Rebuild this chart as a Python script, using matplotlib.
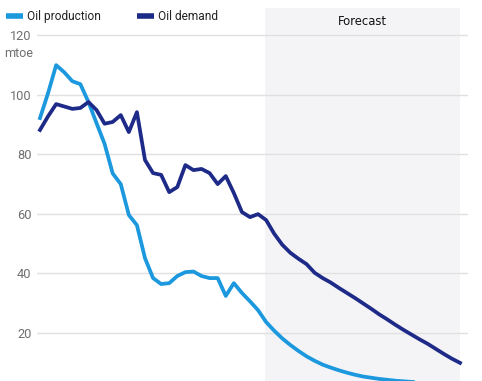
import matplotlib.pyplot as plt
import matplotlib.transforms as mtransforms
from matplotlib.lines import Line2D
import numpy as np

years = list(range(1998, 2051))

oil_production = [92.1, 100.5, 109.9, 107.5, 104.5, 103.5, 97.5, 90.4, 83.4, 73.5,
                  69.9, 59.5, 56.1, 45.0, 38.3, 36.3, 36.6, 39.0, 40.3, 40.5,
                  39.0, 38.3, 38.3, 32.3, 36.6, 33.3, 30.5, 27.5, 23.5, 20.6,
                  18.0, 15.8, 13.8, 12.0, 10.5, 9.2, 8.2, 7.3, 6.5, 5.8,
                  5.2, 4.8, 4.4, 4.1, 3.8, 3.6, 3.4, 3.2, 3.0, 2.9,
                  2.7, 2.6, 2.5]

oil_demand = [88.1, 92.7, 96.8, 96.0, 95.2, 95.5, 97.5, 94.8, 90.2, 90.8,
              93.1, 87.4, 94.1, 78.0, 73.6, 73.0, 67.2, 68.9, 76.3, 74.6,
              75.0, 73.6, 69.9, 72.6, 66.9, 60.5, 58.8, 59.8, 57.8, 53.2,
              49.5, 46.8, 44.8, 43.0, 40.1, 38.3, 36.8, 35.0, 33.3, 31.6,
              29.8, 28.0, 26.1, 24.4, 22.6, 20.9, 19.3, 17.7, 16.2, 14.5,
              12.8, 11.2, 9.8]

y_ticks = [20, 40, 60, 80, 100, 120]
forecast_start = 2025.85
forecast_end = 2050

prod_color = "#1b98de"
demand_color = "#1e2a88"
label_color = "#6f6f6f"

plt.rcParams["font.family"] = ["Roboto", "DejaVu Sans"]

fig = plt.figure(figsize=(4.82, 3.81), dpi=100)
ax = fig.add_axes([37 / 482, 0, (468 - 37) / 482, 1])

y_lo, y_hi = 3.7, 131.8
ax.axvspan(forecast_start, forecast_end, ymax=(129.1 - y_lo) / (y_hi - y_lo),
           color="#f4f4f6", zorder=0, lw=0)
ax.text((forecast_start + forecast_end) / 2, 124.5, "Forecast", ha="center", va="center",
        fontsize=9.3, color="#111111", family="DejaVu Sans", fontstretch="condensed")

ax.plot(years, oil_production, color=prod_color, lw=2.7, solid_joinstyle="round", zorder=3)
ax.plot(years, oil_demand, color=demand_color, lw=2.7, solid_joinstyle="round", zorder=3)

ax.set_xlim(1997.63, 2050.99)
ax.set_ylim(y_lo, y_hi)
ax.set_yticks(y_ticks)
ax.set_xticks([])
ax.grid(axis="y", color="#e0e0e0", lw=1)
ax.set_axisbelow(True)
ax.tick_params(axis="y", length=0, pad=4, labelsize=9.2, labelcolor=label_color)
for s in ax.spines.values():
    s.set_visible(False)
ax.patch.set_alpha(0)

trans = mtransforms.blended_transform_factory(ax.transAxes, ax.transData)
ax.text(-0.009, 113.8, "mtoe", transform=trans, ha="right", va="center",
        fontsize=9, color=label_color)

handles = [Line2D([], [], color=prod_color, lw=4, solid_capstyle="butt"),
           Line2D([], [], color=demand_color, lw=4, solid_capstyle="butt")]
fig.legend(handles, ["Oil production", "Oil demand"], loc="upper left",
           bbox_to_anchor=(-0.009, 1.002), ncol=2, frameon=False, fontsize=8.6,
           handlelength=1.4, handletextpad=0.35, columnspacing=3.0,
           labelcolor="#222222")

plt.savefig("out.png", dpi=100)
